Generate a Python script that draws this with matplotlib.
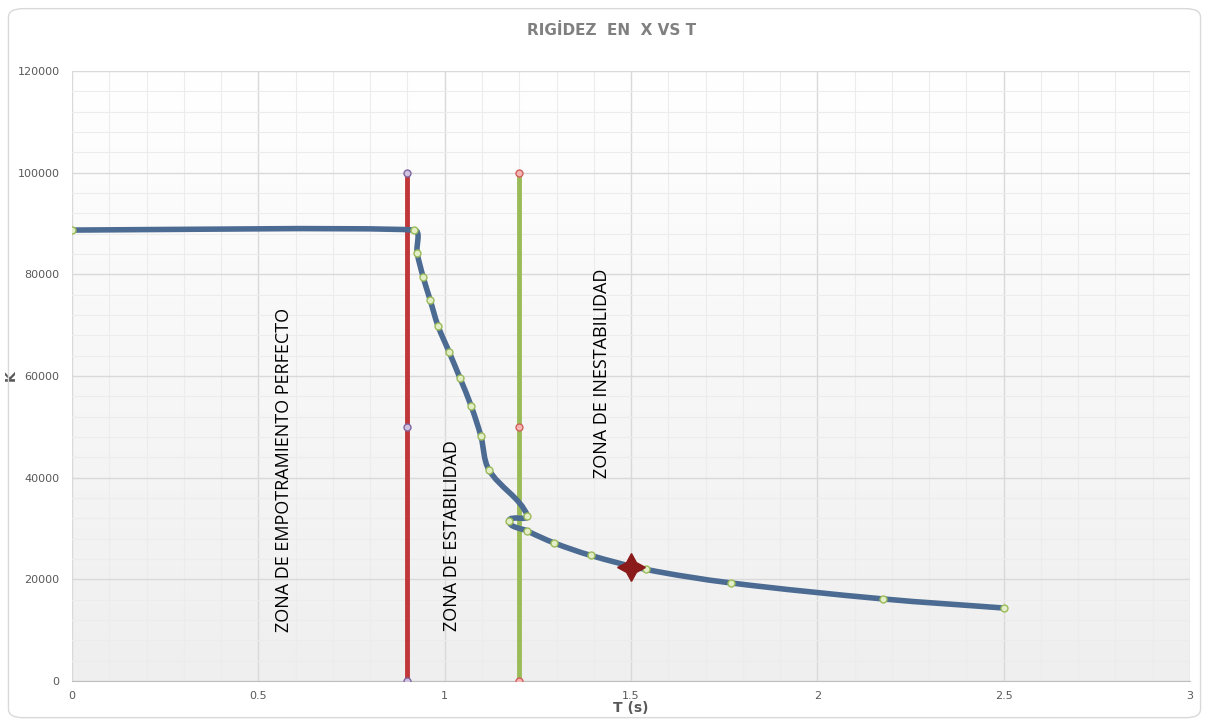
import numpy as np
import matplotlib
matplotlib.use("Agg")
import matplotlib.pyplot as plt
from matplotlib.path import Path
from matplotlib.patches import PathPatch, FancyBboxPatch

# puntos de la curva K vs T
T = [0.0, 0.918, 0.926, 0.942, 0.961, 0.982, 1.012, 1.041, 1.071, 1.097,
     1.119, 1.222, 1.173, 1.222, 1.294, 1.392, 1.540, 1.767, 2.175, 2.501]
K = [88700, 88700, 84200, 79500, 74950, 69850, 64700, 59600, 54100, 48200,
     41500, 32500, 31500, 29500, 27150, 24700, 21950, 19300, 16150, 14350]

# limites de zonas
T_lim1 = [0.9, 0.9, 0.9]
T_lim2 = [1.2, 1.2, 1.2]
K_lim = [0, 50000, 100000]

# punto de diseño
T_dis = [1.5]
K_dis = [22400]

fig = plt.figure(figsize=(12.09, 7.22), dpi=100)
fig.patch.set_facecolor('white')
fig.patches.append(FancyBboxPatch((0.007, 0.006), 0.986, 0.982,
                                  boxstyle="round,pad=0,rounding_size=0.012",
                                  transform=fig.transFigure, fc='none',
                                  ec='#d9d9d9', lw=1.0))

ax = fig.add_axes([0.0596, 0.0568, 0.9247, 0.8449])

# fondo degradado
grad = np.linspace(0, 1, 256).reshape(-1, 1)
cmap = matplotlib.colors.LinearSegmentedColormap.from_list('g', ['#ffffff', '#efefef'])
ax.imshow(grad, extent=[0, 1, 0, 1], transform=ax.transAxes, cmap=cmap,
          aspect='auto', zorder=0, origin='upper')

ax.set_xlim(0, 3)
ax.set_ylim(0, 120000)
ax.set_xticks(np.arange(0, 3.01, 0.5))
ax.set_xticklabels(['0', '0.5', '1', '1.5', '2', '2.5', '3'])
ax.set_yticks(np.arange(0, 120001, 20000))
ax.set_xticks(np.arange(0, 3.01, 0.1), minor=True)
ax.set_yticks(np.arange(0, 120001, 4000), minor=True)
ax.grid(which='major', color='#d9d9d9', lw=1.0, zorder=1)
ax.grid(which='minor', color='#ececec', lw=0.8, zorder=1)
ax.set_axisbelow(True)
ax.tick_params(which='both', length=0, colors='#595959', labelsize=8)
ax.tick_params(axis='x', pad=7)
ax.tick_params(axis='y', pad=9)
for s in ['top', 'right', 'left']:
    ax.spines[s].set_visible(False)
ax.spines['bottom'].set_color('#bfbfbf')

# lineas de zona
ax.plot(T_lim1, K_lim, color='#c0373a', lw=3.5, zorder=3,
        marker='o', ms=5, mfc='#cfc4e0', mec='#8064a2', mew=1)
ax.plot(T_lim2, K_lim, color='#9bbb59', lw=3.5, zorder=3,
        marker='o', ms=5, mfc='#f4b5b3', mec='#d0605d', mew=1)

# curva suavizada (bezier, tangentes en escala de pantalla)
sx, sy = 1118 / 3.0, 610 / 120000.0
pts = np.column_stack([np.array(T) * sx, np.array(K) * sy])
n = len(pts)
tang = []
for i in range(n):
    a = pts[max(i - 1, 0)]
    b = pts[min(i + 1, n - 1)]
    d = b - a
    tang.append(d / np.hypot(*d))
verts = [pts[0]]
codes = [Path.MOVETO]
for i in range(n - 1):
    p1, p2 = pts[i], pts[i + 1]
    L = min(np.hypot(*(p2 - p1)) / 3.0, 50)
    verts += [p1 + tang[i] * L, p2 - tang[i + 1] * L, p2]
    codes += [Path.CURVE4] * 3
verts = np.array(verts) / np.array([sx, sy])
ax.add_patch(PathPatch(Path(verts, codes), fc='none', ec='#4c6b92', lw=4,
                       zorder=4, capstyle='round'))
ax.plot(T, K, ls='none', marker='o', ms=5, mfc='#e3eec8', mec='#9bbb59',
        mew=1, zorder=5)

ax.plot(T_dis, K_dis, ls='none', marker=(4, 1, 0), ms=20, color='#8b1a1a',
        mec='#8b1a1a', zorder=6)

txt = dict(rotation=90, ha='center', va='center', fontsize=13,
           color='black', family='Open Sans', zorder=6)
ax.text(0.57, 41500, 'ZONA DE EMPOTRAMIENTO PERFECTO', **txt)
ax.text(1.02, 28700, 'ZONA DE ESTABILIDAD', **txt)
ax.text(1.423, 60600, 'ZONA DE INESTABILIDAD', **txt)

fig.text(0.506, 0.958, 'RIGİDEZ  EN  X VS T', ha='center', va='center',
         fontsize=11, fontweight='bold', color='#808080')
ax.set_xlabel('T (s)', fontsize=10, fontweight='bold', color='#595959', labelpad=0)
ax.set_ylabel('K', fontsize=10, fontweight='bold', color='#595959')
ax.yaxis.set_label_coords(-0.049, 0.5)

fig.savefig('out.png', dpi=100)
